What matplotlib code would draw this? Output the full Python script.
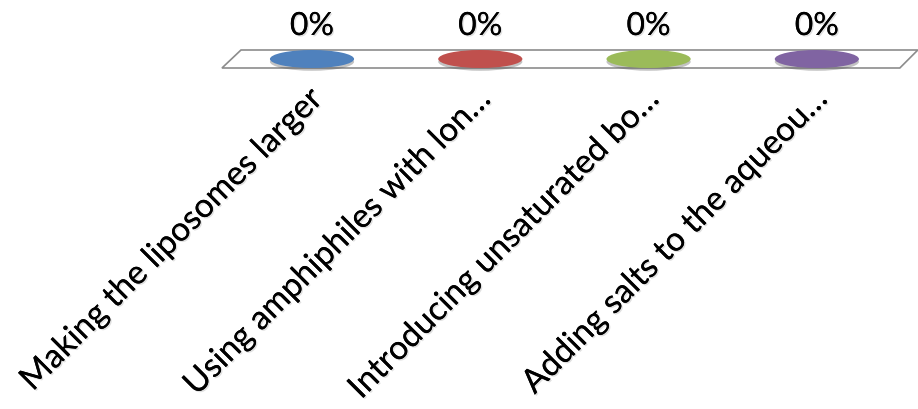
import matplotlib
matplotlib.use("Agg")
import matplotlib.pyplot as plt
import matplotlib.patches as patches
import matplotlib.patheffects as pe

# data
categories = ["Making the liposomes larger",
              "Using amphiphiles with lon\u2026",
              "Introducing unsaturated bo\u2026",
              "Adding salts to the aqueou\u2026"]
values = [0, 0, 0, 0]
value_labels = ["0%", "0%", "0%", "0%"]
colors = ["#4F81BD", "#C0504D", "#9BBB59", "#8064A2"]

plt.rcParams['font.family'] = ['Lato', 'DejaVu Sans']

fig = plt.figure(figsize=(9.18, 4.10), dpi=100)
ax = fig.add_axes([0, 0, 1, 1])
ax.set_xlim(-1.854, 3.601)
ax.set_ylim(-350, 60)
ax.axis('off')

# floor (flat 3d plane)
floor = patches.Polygon([(-0.422, 9), (3.600, 9), (3.493, -9), (-0.535, -9)],
                        closed=True, facecolor='white', edgecolor='#8c8c8c', lw=1.2)
ax.add_patch(floor)

shadow = [pe.withSimplePatchShadow(offset=(0, -2), shadow_rgbFace='#555555', alpha=0.35)]
txt_shadow = [pe.withSimplePatchShadow(offset=(1, -1), shadow_rgbFace='#999999', alpha=0.3), pe.Normal()]

for i, v in enumerate(values):
    # zero-height cylinders show only their top ellipse
    e = patches.Ellipse((i, v * 300), 0.50, 18, facecolor=colors[i], edgecolor='none',
                        path_effects=shadow)
    ax.add_patch(e)
    ax.text(i, v * 300 + 33, value_labels[i], ha='center', va='center', fontsize=23,
            color='black', path_effects=txt_shadow)
    ax.text(i + 0.035, -35, categories[i], rotation=45, rotation_mode='anchor',
            ha='right', va='center', fontsize=24, color='black', path_effects=txt_shadow)

fig.savefig('out.png', dpi=100)
